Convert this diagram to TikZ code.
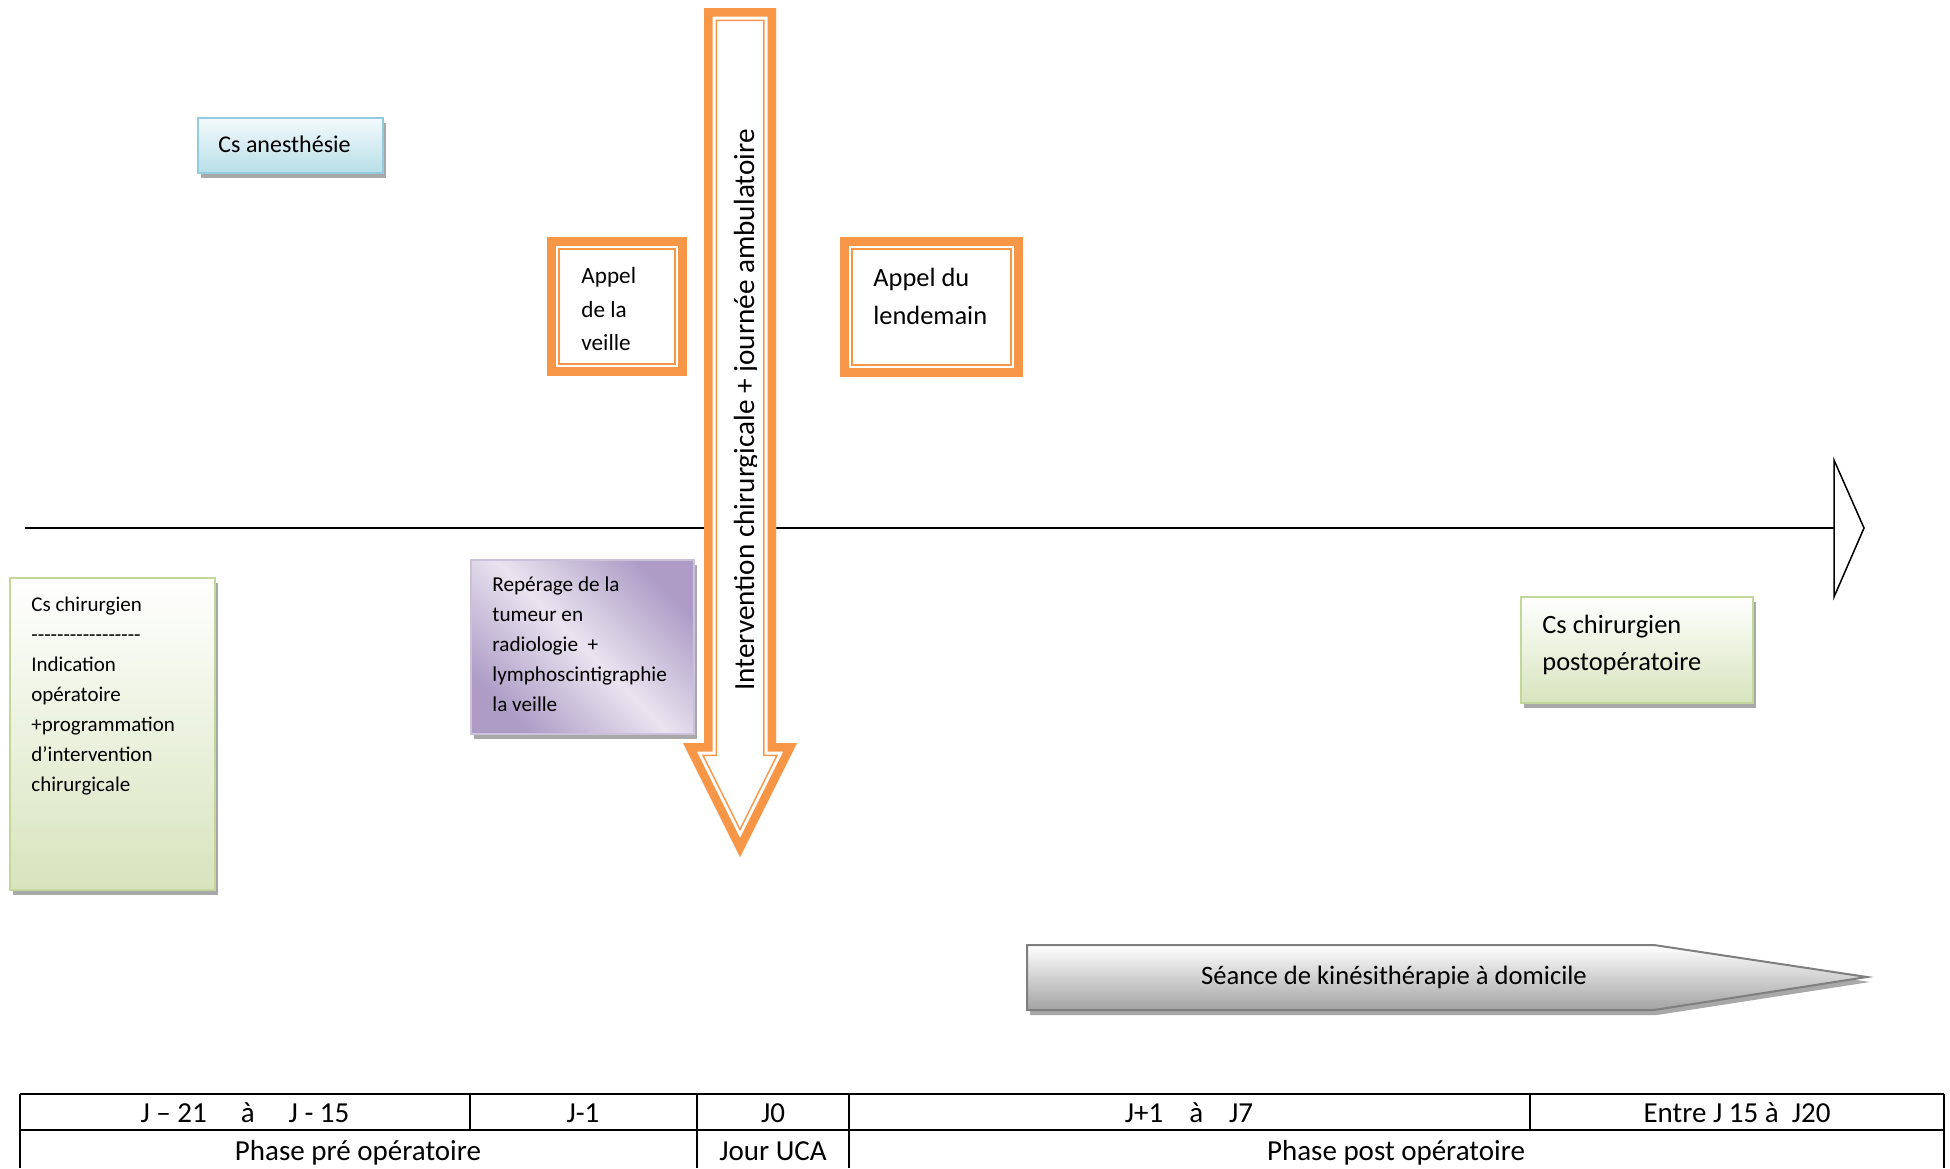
\documentclass[tikz,border=0pt]{standalone}
\usepackage{fontspec}
\setmainfont{Carlito}
\usetikzlibrary{positioning}
\usetikzlibrary{shadows}
\definecolor{callorange}{HTML}{F79646}
\definecolor{cardblue}{HTML}{93CDDD}
\definecolor{bluetop}{HTML}{F4FAFC}
\definecolor{bluebottom}{HTML}{B7DEE8}
\definecolor{cardgreen}{HTML}{C3D69B}
\definecolor{greentop}{HTML}{FFFFFF}
\definecolor{greenbottom}{HTML}{D7E4BD}
\definecolor{cardpurple}{HTML}{CCC1DA}
\definecolor{purpledark}{HTML}{AE9CC6}
\definecolor{purplelight}{HTML}{E9E4F0}
\definecolor{kinegray}{HTML}{A3A3A3}
\definecolor{kineborder}{HTML}{7F7F7F}
\definecolor{shadowgray}{HTML}{A8A8A8}
\tikzset{
  % flat grey shadow under the boxes
  box shadow/.style = {
    drop shadow = {shadow xshift=1.5pt, shadow yshift=-2.5pt, fill=shadowgray, opacity=1}
  },
  card/.style = {
    box shadow,
    line width = 1pt,
    inner sep = 0,
    outer sep = 0,
    anchor = north west
  },
  blue card/.style = {
    card, draw = cardblue,
    top color = bluetop, bottom color = bluebottom
  },
  green card/.style = {
    card, draw = cardgreen,
    top color = greentop, bottom color = greenbottom
  },
  purple card/.style = {
    card, draw = cardpurple,
    top color = purpledark, bottom color = purpledark, middle color = purplelight,
    shading angle = -45
  },
  % orange frame, thick outside and thin inside
  call box/.style = {
    draw = callorange,
    line width = 4.5pt,
    fill = white,
    inner sep = 0,
    outer sep = 0,
    anchor = north west
  },
  card text/.style = {
    inner sep = 0,
    anchor = north west,
    align = left
  },
  cell/.style = {
    anchor = base,
    inner sep = 0,
    font = \fontsize{14.5}{17}\selectfont
  }
}
\def\surgeryarrow{(704,8) -- (776,8) -- (776,743) -- (797,743) -- (740,857) -- (683,743) -- (704,743) -- cycle}
\def\kinearrow{(1027,945) -- (1654,945) -- (1867,977) -- (1654,1010) -- (1027,1010) -- cycle}

\begin{document}
\begin{tikzpicture}[x=0.5pt, y=-0.5pt]
  \useasboundingbox (0,0) rectangle (1950,1168);

  % time axis
  \coordinate (axisstart) at (25,528);
  \coordinate (axisend) at (1834,528);
  \draw[line width=1pt] (axisstart) -- (axisend);
  \draw[line width=.75pt, fill=white] (1834,460) -- (1864,528) -- (1834,597) -- cycle;

  % cards
  \node[blue card, minimum width=92.5pt, minimum height=27.5pt] (anesth) at (198,118) {};
  \node[inner sep=0, anchor=base west, font=\fontsize{12}{15}\selectfont] (anesthtext) at (218,152) {Cs anesthésie};

  \node[green card, minimum width=102.5pt, minimum height=156pt] (cschir) at (10,578) {};
  \node[card text, font=\fontsize{10.5}{15}\selectfont] (cschirtext) at (31,597)
    {Cs chirurgien\\-{}-{}-{}-{}-{}-{}-{}-{}-{}-{}-{}-{}-{}-{}-{}-{}-\\Indication\\opératoire\\+programmation\\d’intervention\\chirurgicale};

  \node[purple card, minimum width=111.5pt, minimum height=87pt] (reperage) at (471,560) {};
  \node[card text, font=\fontsize{10.6}{15}\selectfont] (reperagetext) at (492,576)
    {Repérage de la\\tumeur en\\radiologie\ \ +\\lymphoscintigraphie\\la veille};

  \node[green card, minimum width=116pt, minimum height=53pt] (cspostop) at (1521,597) {};
  \node[card text, font=\fontsize{13.2}{18.5}\selectfont] (cspostoptext) at (1542,615)
    {Cs chirurgien\\postopératoire};

  % phone calls
  \node[call box, minimum width=65.5pt, minimum height=65pt] (veille) at (551.5,241.5) {};
  \draw[callorange, line width=.75pt] ([shift={(7.5,7.5)}]veille.north west) rectangle ([shift={(-7.5,-7.5)}]veille.south east);
  \node[card text, font=\fontsize{11.6}{16.8}\selectfont] (veilletext) at (581,267) {Appel\\de la\\veille};

  \node[call box, minimum width=87pt, minimum height=65.5pt] (lendemain) at (844.5,241.5) {};
  \draw[callorange, line width=.75pt] ([shift={(7.5,7.5)}]lendemain.north west) rectangle ([shift={(-7.5,-7.5)}]lendemain.south east);
  \node[card text, font=\fontsize{13.2}{19}\selectfont] (lendemaintext) at (873,268) {Appel du\\lendemain};

  % day of surgery
  \begin{scope}
    \clip \surgeryarrow;
    \fill[white] \surgeryarrow;
    \draw[callorange, line width=13pt] \surgeryarrow;
    \draw[white, line width=11.5pt] \surgeryarrow;
    \draw[callorange, line width=8.5pt] \surgeryarrow;
  \end{scope}
  \begin{scope}
    \clip (700,0) rectangle (756,900);
    \node[rotate=90, anchor=base, inner sep=0, font=\fontsize{14.6}{17}\selectfont] (surgery) at (754,410)
      {Intervention chirurgicale + journée ambulatoire};
  \end{scope}

  % physiotherapy
  \begin{scope}[shift={(3,5)}]
    \fill[shadowgray] \kinearrow;
  \end{scope}
  \path[top color=white, bottom color=kinegray, draw=kineborder, line width=1pt] \kinearrow;
  \node[inner sep=0, font=\fontsize{13.3}{16}\selectfont] (kine) at (1394,977) {Séance de kinésithérapie à domicile};

  % table of days
  \draw[line width=1pt] (20,1094) -- (1944,1094);
  \draw[line width=.8pt] (20,1130) -- (1944,1130);
  \foreach \x in {20,697,849,1944}
    \draw[line width=.8pt] (\x,1094) -- (\x,1168);
  \foreach \x in {470,1530}
    \draw[line width=.8pt] (\x,1094) -- (\x,1130);

  \node[cell] (dayspre) at (245,1122) {J – 21\hspace{17pt}à\hspace{17pt}J - 15};
  \node[cell] (dayveille) at (583,1122) {J-1};
  \node[cell] (dayzero) at (773,1122) {J0};
  \node[cell] (dayspost) at (1189,1122) {J+1\hspace{13pt}à\hspace{13pt}J7};
  \node[cell] (daysend) at (1737,1122) {Entre J 15 à\ \ J20};
  \node[cell] (phasepre) at (358,1160) {Phase pré opératoire};
  \node[cell] (phaseuca) at (773,1160) {Jour UCA};
  \node[cell] (phasepost) at (1396,1160) {Phase post opératoire};
\end{tikzpicture}
\end{document}
